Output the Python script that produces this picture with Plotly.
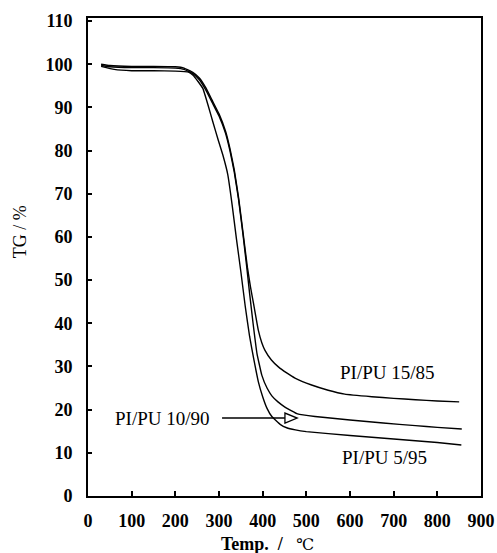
import plotly.graph_objects as go

# ---------------- data ----------------
t_15_85 = [30, 50, 100, 150, 200, 220, 240, 255, 270, 285, 300, 315, 325, 335, 345,
           355, 365, 372, 379, 390, 398, 405, 420, 436, 455, 474, 512, 550, 588, 650,
           700, 750, 800, 850]
tg_15_85 = [100.0, 99.7, 99.5, 99.5, 99.4, 99.1, 98.1, 96.8, 94.5, 91.5, 88.5, 84.5, 80.5,
            75.5, 69.0, 61.0, 53.0, 48.5, 44.6, 38.4, 35.5, 33.8, 31.5, 29.9, 28.5, 27.3,
            25.7, 24.5, 23.6, 23.0, 22.6, 22.3, 22.0, 21.8]

t_10_90 = [30, 50, 100, 150, 200, 220, 240, 255, 270, 285, 300, 315, 325, 335, 345,
           355, 363, 370, 378, 387, 398, 410, 421, 435, 451, 480, 520, 600, 676, 750,
           800, 856]
tg_10_90 = [99.7, 99.4, 99.2, 99.2, 99.1, 98.8, 97.8, 96.4, 94.0, 91.0, 88.0, 84.0, 80.0,
            75.0, 68.5, 60.5, 53.5, 47.0, 40.0, 33.0, 28.0, 25.0, 23.2, 21.8, 20.6, 19.0,
            18.4, 17.6, 16.9, 16.3, 15.9, 15.5]

t_5_95 = [30, 60, 100, 150, 200, 230, 240, 252, 263, 275, 286, 298, 309, 320, 330, 340,
          350, 360, 370, 380, 390, 400, 410, 421, 440, 455, 475, 500, 600, 700, 800, 855]
tg_5_95 = [99.5, 98.8, 98.5, 98.5, 98.4, 98.2, 97.5, 96.0, 94.4, 90.5, 86.6, 82.5, 78.9,
           74.5, 67.5, 59.5, 52.0, 44.0, 37.0, 31.5, 26.5, 23.0, 20.3, 18.4, 16.6, 15.8,
           15.3, 14.9, 14.0, 13.2, 12.4, 11.8]

x_ticks = [0, 100, 200, 300, 400, 500, 600, 700, 800, 900]
y_ticks = [0, 10, 20, 30, 40, 50, 60, 70, 80, 90, 100, 110]

labels = ["PI/PU 15/85", "PI/PU 10/90", "PI/PU 5/95"]
label_x = [685, 171, 680]
label_y = [28.7, 18.05, 9.0]

# arrow from "PI/PU 10/90" label to its curve
arrow_start = (307, 18.05)
arrow_base = 451
arrow_tip = (479, 18.05)
arrow_half_h = 1.15

# ---------------- figure ----------------
SERIF = "Liberation Serif, Times New Roman, serif"
fig = go.Figure()
for t, tg, name in [(t_15_85, tg_15_85, labels[0]), (t_10_90, tg_10_90, labels[1]),
                    (t_5_95, tg_5_95, labels[2])]:
    fig.add_trace(go.Scatter(x=t, y=tg, mode="lines", name=name,
                             line=dict(color="black", width=1.4, shape="spline", smoothing=0.3),
                             showlegend=False))

for txt, lx, ly in zip(labels, label_x, label_y):
    fig.add_annotation(x=lx, y=ly, text=txt, showarrow=False, xref="x", yref="y",
                       font=dict(family=SERIF, size=19, color="black"))

fig.add_shape(type="line", xref="x", yref="y", x0=arrow_start[0], y0=arrow_start[1],
              x1=arrow_base, y1=arrow_tip[1], line=dict(color="black", width=1.5))
fig.add_shape(type="path", xref="x", yref="y",
              path=f"M {arrow_base},{arrow_tip[1]-arrow_half_h} L {arrow_tip[0]},{arrow_tip[1]} "
                   f"L {arrow_base},{arrow_tip[1]+arrow_half_h} Z",
              line=dict(color="black", width=1.3), fillcolor="white")

fig.add_annotation(x=0.458, y=-0.1, xref="paper", yref="paper",
                   text="<b>Temp.  /  </b> <span style='font-family:DejaVu Serif;font-size:16px'>℃</span>",
                   showarrow=False, xanchor="center", yanchor="middle",
                   font=dict(family=SERIF, size=18, color="black"))
fig.add_annotation(x=-0.173, y=0.552, xref="paper", yref="paper", text="TG / %",
                   showarrow=False, textangle=-90, xanchor="center", yanchor="middle",
                   font=dict(family=SERIF, size=18, color="black"))

axis_common = dict(showgrid=False, zeroline=False, showline=True, linecolor="black",
                   linewidth=2, mirror=True, ticks="inside", tickcolor="black",
                   tickwidth=1.5, automargin=False,
                   tickfont=dict(family=SERIF, size=18, color="black", weight="bold"))
fig.update_xaxes(range=[0, 900], tickvals=x_ticks, ticklen=5, ticklabelstandoff=7,
                 **axis_common)
fig.update_yaxes(range=[0, 110.7], tickvals=y_ticks, ticklen=4, ticklabelstandoff=10,
                 **axis_common)

fig.update_layout(width=497, height=553, margin=dict(l=88, r=16, t=18, b=57),
                  plot_bgcolor="white", paper_bgcolor="white")
fig.write_html("out.html", config={"displayModeBar": False},
               post_script="document.body.style.margin='0';document.body.style.overflow='hidden';")
